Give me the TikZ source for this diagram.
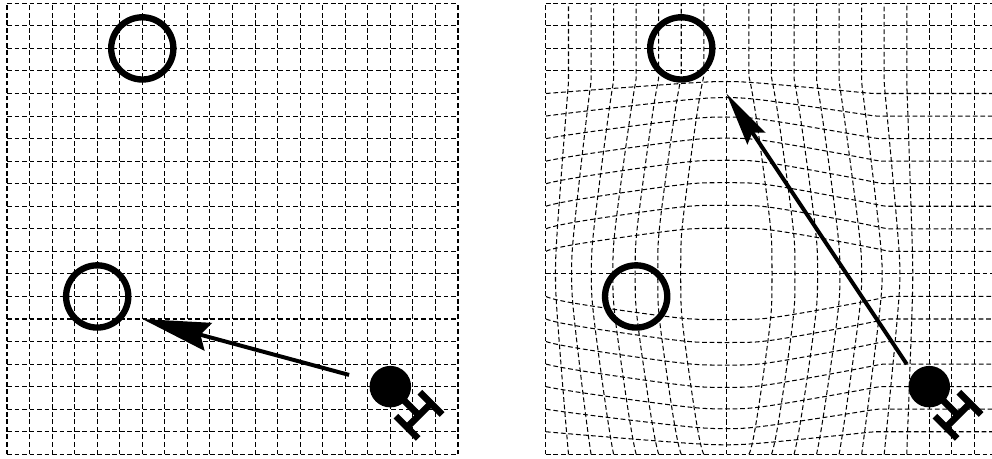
\documentclass[tikz,border=0pt]{standalone}
\usetikzlibrary{arrows.meta}
\begin{document}
\begin{tikzpicture}[
  x=1cm, y=1cm,
  gridline/.style={line width=0.65pt, dash pattern=on 3pt off 1.75pt},
  planet/.style={circle, draw, line width=4pt, minimum size=1.38cm, inner sep=0pt},
  shipball/.style={circle, fill, minimum size=0.92cm, inner sep=0pt},
  hull/.style={line width=4.2pt},
  course/.style={line width=2.5pt},
  enterprise/.pic={
    \node[shipball] (-ball) at (0,0) {};
    \begin{scope}[rotate=-45]
      \draw[hull] (0,0) -- (1.8,0);
      \draw[hull] (1.8,-0.75) -- (1.8,0.75);
      \draw[hull] (1.1,-0.75) -- (2.5,-0.75);
      \draw[hull] (1.1,0.75) -- (2.5,0.75);
    \end{scope}
  },
  % outward push of the grid around the point (8,8), in cell units
  declare function={
    sg(\d)=\d/sqrt(\d*\d+0.05);
    rr(\d,\L)=(\d*\d)/(\L*\L);
    wf(\d,\L)=max(0,1-rr(\d,\L)*rr(\d,\L)*rr(\d,\L));
    ef(\d,\M)=max(0,1-(sqrt(\d*\d+1)-1)/\M);
    ux(\a,\b)=1.05*sg(\a-8)*wf(\a-8,ifthenelse(\a<8,8,8.4))*ef(\b-8,ifthenelse(\b<8,7.06,7.5));
    uy(\a,\b)=1.05*sg(\b-8)*wf(\b-8,ifthenelse(\b<8,8,9))*ef(\a-8,ifthenelse(\a<8,7.06,5.5));
  }
]
\path[use as bounding box, fill=white] (-0.155,-0.082) rectangle (21.84,10.073);

% flat space
\begin{scope}[x=0.5cm, y=0.5cm]
  \foreach \j in {0,...,20} {
    \draw[gridline] (0,\j) -- (20,\j);
    \draw[gridline] (\j,0) -- (\j,20);
  }
  \node[planet] (homeL) at (6,18) {};
  \node[planet] (destL) at (4,7) {};
  \pic (shipL) at (17,3) {enterprise};
  \coordinate (tailL) at (15.17,3.52);
  \coordinate (tipL) at (6,6);
  \draw[course, -{Stealth[length=43pt, width=18pt, inset=5pt]}] (tailL) -- (tipL);
\end{scope}

% warped space
\begin{scope}[shift={(11.95,0)}, x=0.5cm, y=0.5cm]
  \foreach \j in {0,...,20} {
    \draw[gridline] plot[variable=\t, domain=0:20, samples=81] ({\t+ux(\t,\j)},{\j+uy(\t,\j)});
    \draw[gridline] plot[variable=\t, domain=0:20, samples=81] ({\j+ux(\j,\t)},{\t+uy(\j,\t)});
  }
  \node[planet] (homeR) at (6,18) {};
  \node[planet] (destR) at (4,7) {};
  \pic (shipR) at (17,3) {enterprise};
  \coordinate (tailR) at (16,4);
  \coordinate (tipR) at (8,16);
  \draw[course, -{Stealth[length=34pt, width=13.5pt, inset=4.4pt]}] (tailR) -- (tipR);
\end{scope}
\end{tikzpicture}
\end{document}
